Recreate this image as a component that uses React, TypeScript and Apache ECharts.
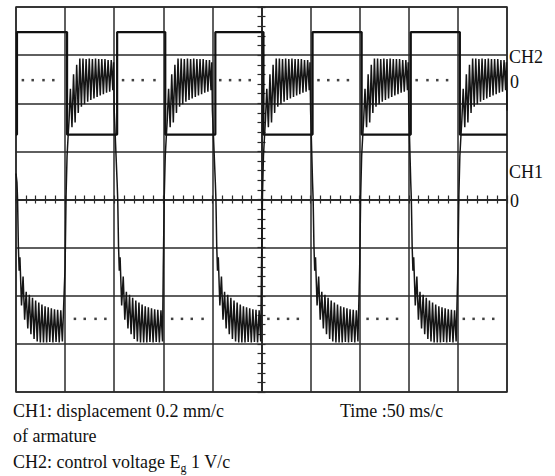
import React, { useEffect, useRef } from "react";
import * as echarts from "echarts";

// Time axis in ms (50 ms per division), vertical axis in divisions
const timeMin = -250;
const timeMax = 250;
const timeStep = 50;
const divMin = -4;
const divMax = 4;

// CH2 square wave (control voltage) edges, ms
const riseTimes = [-249, -147, -47, 52, 152];
const fallTimes = [-198, -98, 2, 102, 202];
const ch2High = 3.48;
const ch2Low = 1.35;

// Trace start before first rise
const traceStart: [number, number] = [-250, 0.54];

// Lower burst, relative to each rise [dt ms, div]
const lowerBurst: [number, number][] = [
  [0, 0.35], [0.6, 0], [1.4, -0.96], [2.2, -1.48], [3.0, -1.2],
  [4.6, -2.2], [6.2, -1.6], [7.8, -2.5], [9.4, -1.92], [11.0, -2.68],
  [12.6, -1.98], [14.2, -2.8], [15.8, -2.04], [17.4, -2.9], [19.0, -2.1],
  [20.6, -2.95], [22.2, -2.14], [23.8, -2.97], [25.4, -2.18], [27.0, -2.97],
  [28.6, -2.22], [30.2, -2.97], [31.8, -2.24], [33.4, -2.96], [35.0, -2.26],
  [36.6, -2.97], [38.2, -2.28], [39.8, -2.96], [41.4, -2.29], [43.0, -2.97],
  [44.6, -2.3], [46.2, -2.95],
];

// Upper burst, relative to each fall [dt ms, div]
const upperBurst: [number, number][] = [
  [-2, -1.4], [-1, 0.1], [0, 0.91], [1, 1.29], [2, 1.64],
  [3.4, 2.3], [5.0, 1.5], [6.6, 2.6], [8.2, 1.6], [9.8, 2.8],
  [11.4, 1.8], [13.0, 2.93], [14.6, 1.93], [16.2, 2.93], [17.8, 1.98],
  [19.4, 2.92], [21.0, 2.03], [22.6, 2.93], [24.2, 2.07], [25.8, 2.92],
  [27.4, 2.1], [29.0, 2.93], [30.6, 2.13], [32.2, 2.92], [33.8, 2.16],
  [35.4, 2.92], [37.0, 2.19], [38.6, 2.92], [40.2, 2.22], [41.8, 2.9],
  [43.4, 2.24], [45.0, 2.9], [46.6, 2.27], [47.4, 2.85], [48.0, 1.85],
];

// Dotted reference markers (ms)
const upperDotTimes = [-243, -233, -222, -212, -141, -131, -121, -109, -42, -32, -22, -12, 58, 68, 78, 88, 158, 169, 179, 189];
const lowerDotTimes = [-190, -180, -169, -159, -91, -81, -71, -60, 7, 17, 27, 37, 108, 118, 128, 138, 206, 216, 226, 236];
const upperDotLevel = 2.48;
const lowerDotLevel = -2.48;

// Texts
const rightLabels = [
  { text: "CH2", x: 509, y: 57 },
  { text: "0", x: 510, y: 82 },
  { text: "CH1", x: 509, y: 172 },
  { text: "0", x: 510, y: 201 },
];
const captionLine1 = "CH1: displacement 0.2 mm/c";
const captionLine2 = "of armature";
const captionLine3a = "CH2: control voltage E";
const captionLine3sub = "g";
const captionLine3b = " 1 V/c";
const captionTime = "Time :50 ms/c";

const FAMILY = '"Liberation Serif", "Times New Roman", serif';

function textWidth(s: string, size: number): number {
  const c = document.createElement("canvas").getContext("2d");
  if (!c) return s.length * size * 0.5;
  c.font = `${size}px ${FAMILY}`;
  return c.measureText(s).width;
}

function buildSquare(): [number, number][] {
  const pts: [number, number][] = [[timeMin, ch2Low]];
  for (let i = 0; i < riseTimes.length; i++) {
    pts.push([riseTimes[i], ch2Low], [riseTimes[i], ch2High]);
    pts.push([fallTimes[i], ch2High], [fallTimes[i], ch2Low]);
  }
  pts.push([timeMax, ch2Low]);
  return pts;
}

function buildTrace(): [number, number][] {
  const pts: [number, number][] = [traceStart];
  for (let i = 0; i < riseTimes.length; i++) {
    lowerBurst.forEach(([dt, v]) => pts.push([riseTimes[i] + dt, v]));
    upperBurst.forEach(([dt, v]) => pts.push([fallTimes[i] + dt, v]));
  }
  return pts;
}

const LINE = "#2a2a2a";

function makeAxis(kind: "x" | "y", primary: boolean) {
  const isX = kind === "x";
  return {
    type: "value",
    min: isX ? timeMin : divMin,
    max: isX ? timeMax : divMax,
    interval: isX ? timeStep : 1,
    position: isX ? (primary ? "bottom" : "top") : primary ? "left" : "right",
    axisLine: { show: true, onZero: true, onZeroAxisIndex: 0, lineStyle: { color: LINE, width: 1.5 } },
    axisTick: { show: true, length: 4, lineStyle: { color: LINE, width: 1.2 } },
    minorTick: { show: true, splitNumber: 5, length: 4, lineStyle: { color: LINE, width: 1.2 } },
    axisLabel: { show: false },
    splitLine: { show: primary, lineStyle: { color: LINE, width: 1.5 } },
    minorSplitLine: { show: false },
  };
}

export default function App() {
  const ref = useRef<HTMLDivElement>(null);
  useEffect(() => {
    if (!ref.current) return;
    const chart = echarts.init(ref.current, undefined, { renderer: "svg" });
    const font18 = `18px ${FAMILY}`;
    const w3a = textWidth(captionLine3a, 18);
    const wSub = textWidth(captionLine3sub, 12);
    const graphic: any[] = [
      ...rightLabels.map((l) => ({
        type: "text",
        x: l.x,
        y: l.y,
        style: { text: l.text, font: font18, fill: "#111", verticalAlign: "middle" },
      })),
      { type: "text", x: 13, y: 411, style: { text: captionLine1, font: font18, fill: "#111", verticalAlign: "middle" } },
      { type: "text", x: 340, y: 411, style: { text: captionTime, font: font18, fill: "#111", verticalAlign: "middle" } },
      { type: "text", x: 13, y: 436, style: { text: captionLine2, font: font18, fill: "#111", verticalAlign: "middle" } },
      { type: "text", x: 13, y: 462, style: { text: captionLine3a, font: font18, fill: "#111", verticalAlign: "middle" } },
      { type: "text", x: 13 + w3a, y: 468, style: { text: captionLine3sub, font: `12px ${FAMILY}`, fill: "#111", verticalAlign: "middle" } },
      { type: "text", x: 13 + w3a + wSub, y: 462, style: { text: captionLine3b, font: font18, fill: "#111", verticalAlign: "middle" } },
    ];
    chart.setOption({
      animation: false,
      backgroundColor: "#ffffff",
      grid: { left: 16, top: 7, width: 491, height: 385, show: true, borderColor: LINE, borderWidth: 1.5 },
      xAxis: [makeAxis("x", true), makeAxis("x", false)],
      yAxis: [makeAxis("y", true), makeAxis("y", false)],
      series: [
        {
          name: "CH2",
          type: "line",
          data: buildSquare(),
          symbol: "none",
          lineStyle: { color: "#111", width: 2.2 },
          z: 3,
        },
        {
          name: "CH1",
          type: "line",
          data: buildTrace(),
          symbol: "none",
          lineStyle: { color: "#151515", width: 1.5 },
          z: 4,
        },
        {
          name: "dots-upper",
          type: "scatter",
          data: upperDotTimes.map((t) => [t, upperDotLevel]),
          symbol: "rect",
          symbolSize: 2.5,
          itemStyle: { color: "#111" },
        },
        {
          name: "dots-lower",
          type: "scatter",
          data: lowerDotTimes.map((t) => [t, lowerDotLevel]),
          symbol: "rect",
          symbolSize: 2.5,
          itemStyle: { color: "#111" },
        },
      ],
      graphic,
    });
    return () => chart.dispose();
  }, []);
  return (
    <div
      ref={ref}
      style={{ position: "fixed", left: 0, top: 0, width: 555, height: 476, background: "#fff" }}
    />
  );
}
